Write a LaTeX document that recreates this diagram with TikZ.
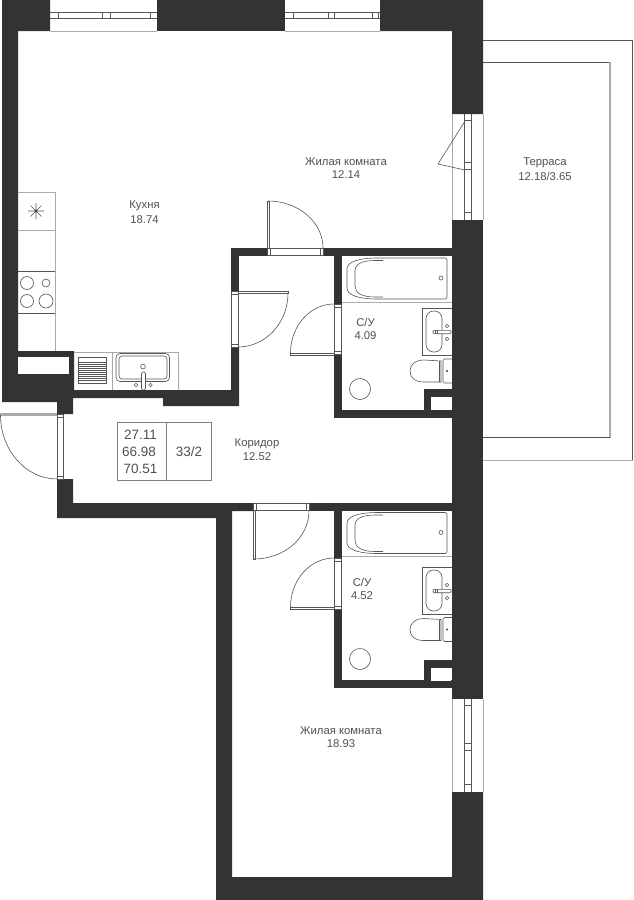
\documentclass[tikz,border=0pt]{standalone}
\usepackage{fontspec}
\setmainfont{Liberation Sans}
\definecolor{wallc}{HTML}{333333}
\definecolor{linec}{HTML}{555555}
\definecolor{lightc}{HTML}{AAAAAA}
\definecolor{textc}{HTML}{505050}
\tikzset{
  wallfill/.style={fill=wallc,draw=none},
  thin line/.style={draw=linec,line width=0.6pt},
  frame line/.style={draw=lightc,line width=0.8pt},
  winbar/.style={draw=linec,line width=0.7pt},
  label/.style={text=textc,font=\fontsize{11.3}{13}\selectfont,inner sep=0pt,align=center},
  tablelabel/.style={text=textc,font=\fontsize{13.5}{15}\selectfont,inner sep=0pt,align=center},
}
\newcommand{\mybath}{%
  \draw[thin line,rounded corners=2pt] (447,258) -- (447,299) -- (380,299) .. controls (358,299) and (347,295) .. (347,286) -- (347,271) .. controls (347,262) and (358,258) .. (380,258) -- cycle;
  \draw[thin line] (383,260.5) -- (375,260.5) .. controls (362,260.5) and (355,264) .. (355,271) -- (355,286) .. controls (355,293) and (362,297) .. (375,297) -- (383,297);
  \draw[thin line] (441,278) circle (2);
}
\newcommand{\mysink}{%
  \draw[thin line] (452,308) -- (422,308) -- (422,355) -- (452,355);
  \draw[thin line,rounded corners=7.5pt] (426,311) rectangle (442,352);
  \draw[thin line,rounded corners=1pt,fill=white] (433,330.3) rectangle (451,333.7);
  \draw[thin line] (435,330.3) -- (435,333.7) (437,330.3) -- (437,333.7);
  \draw[thin line] (447,326) circle (1.7) (447,339) circle (1.7);
}
\newcommand{\mytoilet}{%
  \draw[thin line,rounded corners=1.5pt] (452,359) -- (443,359) -- (443,383) -- (452,383);
  \draw[thin line] (441,361) -- (424,360) .. controls (415,360) and (410,365) .. (410,371) .. controls (410,378) and (415,382) .. (424,382) -- (441,382) -- cycle;
  \draw[thin line] (439,361) -- (439,382);
  \draw[thin line,fill=linec] (447,371) circle (0.8);
}
\newcommand{\hwin}[2]{%
  \draw[frame line] (#1,31) -- (#2,31);
  \draw[winbar] (#1,12) -- (#2,12) (#1,18) -- (#2,18);
}
\newcommand{\vwin}[2]{%
  \draw[frame line] (452.5,#1) -- (452.5,#2) (483,#1) -- (483,#2);
  \draw[winbar] (464.5,#1) -- (464.5,#2) (471.5,#1) -- (471.5,#2);
}
\begin{document}
\begin{tikzpicture}[x=1pt,y=-1pt]
\useasboundingbox (0,0) rectangle (633,900);
\fill[white] (0,0) rectangle (633,900);

% terrace
\draw[draw=linec,line width=0.9pt] (483,40) -- (632.5,40) -- (632.5,460);
\draw[draw=lightc,line width=1pt] (483,460) -- (632.5,460);
\draw[draw=linec,line width=0.9pt] (483,62.5) -- (610,62.5);
\draw[draw=lightc,line width=1.5pt] (610,62) -- (610,437.5);
\draw[draw=linec,line width=0.9pt] (483,437.5) -- (610,437.5);

% walls
\fill[wallfill] (2,0) -- (50,0) -- (50,31) -- (18,31) -- (18,351) -- (74,351) -- (74,390) -- (231,390) -- (231,347) -- (239,347) -- (239,406) -- (163,406) -- (163,398) -- (73,398) -- (73,414) -- (57,414) -- (57,402) -- (2,402) -- cycle;
\fill[wallfill] (157,0) rectangle (285,31);
\fill[wallfill] (380,0) -- (483,0) -- (483,114) -- (452,114) -- (452,31) -- (380,31) -- cycle;
\fill[wallfill] (452,220) rectangle (483,699);
\fill[wallfill] (231,248) rectangle (267,256);
\fill[wallfill] (231,248) rectangle (239,291);
\fill[wallfill] (323,248) rectangle (452,256);
\fill[wallfill] (334,256) rectangle (342,304);
\fill[wallfill] (334,354) rectangle (342,418);
\fill[wallfill] (334,410) rectangle (452,418);
\fill[wallfill] (424,389) rectangle (452,397);
\fill[wallfill] (424,389) rectangle (431,410);
\fill[wallfill] (57,479) -- (73,479) -- (73,503) -- (253,503) -- (253,511) -- (232,511) -- (232,877) -- (452,877) -- (452,792) -- (483,792) -- (483,900) -- (216,900) -- (216,518) -- (57,518) -- cycle;
\fill[wallfill] (309,503) rectangle (452,511);
\fill[wallfill] (334,511) rectangle (342,558);
\fill[wallfill] (334,609) rectangle (342,688);
\fill[wallfill] (334,680) rectangle (452,688);
\fill[wallfill] (424,660) rectangle (452,668);
\fill[wallfill] (424,660) rectangle (431,681);
\fill[white] (18,357) rectangle (69,374);
\fill[white] (431.5,397) rectangle (451,410);
\fill[white] (431,668) rectangle (451,681);

% top windows
\hwin{50}{157}
\draw[winbar] (58,12) -- (58,18) (102,12) -- (102,18) (110,12) -- (110,18) (150.5,12) -- (150.5,18);
\hwin{285}{380}
\draw[winbar] (293.5,12) -- (293.5,18) (328,12) -- (328,18) (334,12) -- (334,18) (372.5,12) -- (372.5,18) (378,12) -- (378,18);

% right windows
\vwin{114}{220}
\draw[winbar] (464.5,120.5) -- (471.5,120.5) (464.5,162) -- (471.5,162) (464.5,169.5) -- (471.5,169.5) (464.5,212) -- (471.5,212);
\draw[thin line] (465,121) -- (438,164) -- (465,170);
\vwin{699}{792}
\draw[winbar] (464.5,705.5) -- (471.5,705.5) (464.5,743.5) -- (471.5,743.5) (464.5,750) -- (471.5,750) (464.5,784.5) -- (471.5,784.5);

% kitchen counter
\draw[draw=lightc,line width=0.8pt] (18,192.5) -- (55,192.5) -- (55,351);
\draw[draw=lightc,line width=0.8pt] (18,230.5) -- (55,230.5);
\draw[thin line] (18,271) -- (55,271) (18,313) -- (55,313);
\draw[draw=linec,line width=0.6pt] (28,211) -- (44,211) (36,203) -- (36,219) (30.5,205.5) -- (41.5,216.5) (30.5,216.5) -- (41.5,205.5);
\fill[wallc] (36,211) circle (1.2);
\draw[thin line] (27,283) circle (6.5) (46,283) circle (4) (27,301) circle (6.5) (46,301) circle (7);

% sink counter
\draw[draw=lightc,line width=0.7pt] (74,352.5) -- (178,352.5) -- (178,390) (112,352.5) -- (112,390);
\draw[thin line] (78.5,357.5) rectangle (106,383);
\foreach \yy in {362,364,...,380} {\draw[draw=linec,line width=0.9pt] (78.5,\yy) -- (106,\yy);}
\draw[thin line,rounded corners=4pt] (116,353.5) rectangle (169.5,381.5);
\draw[thin line,rounded corners=3pt] (119,356) rectangle (167,379);
\draw[thin line] (143,366.5) circle (2.4);
\draw[thin line,fill=white,rounded corners=1.5pt] (141.5,372) rectangle (145.5,390);
\draw[thin line] (136,385) circle (1.7) (150.5,385) circle (1.7);

% doors: frames and leaves
\draw[winbar] (267.5,248.5) rectangle (323,255.5);
\draw[winbar] (270,248.5) -- (270,255.5) (320,248.5) -- (320,255.5);
\draw[thin line] (267,248) -- (267,201) -- (269,201) -- (269,248);
\draw[thin line] (268,201) .. controls (298.4,201) and (323,222) .. (323,248);

\draw[winbar] (231.5,291) rectangle (238.5,347);
\draw[winbar] (231.5,294) -- (238.5,294) (231.5,344) -- (238.5,344);
\draw[thin line] (238,291) -- (288,291) -- (288,293) -- (238,293);
\draw[thin line] (288,293) .. controls (288,323) and (265.6,347) .. (238,347);

\draw[winbar] (334.5,304) rectangle (341.5,354);
\draw[winbar] (334.5,307) -- (341.5,307) (334.5,351) -- (341.5,351);
\draw[thin line] (334,353) -- (290.5,353) -- (290.5,355) -- (334,355);
\draw[thin line] (290.5,353) .. controls (290.5,326) and (310,304) .. (334,304);

\draw[winbar] (57.5,414) rectangle (63.5,479);
\draw[winbar] (57.5,417) -- (63.5,417) (57.5,476) -- (63.5,476);
\draw[draw=lightc,line width=2.2pt] (0,414.5) -- (57,414.5);
\draw[thin line] (0.5,415) .. controls (0.5,450) and (25.7,479) .. (57,479);

\draw[winbar] (253.5,503.5) rectangle (309,510.5);
\draw[winbar] (256,503.5) -- (256,510.5) (306,503.5) -- (306,510.5);
\draw[thin line] (253,511) -- (253,559) -- (255,559) -- (255,511);
\draw[thin line] (254,559) .. controls (284.4,559) and (309,537.5) .. (309,511);

\draw[winbar] (334.5,558) rectangle (341.5,609);
\draw[winbar] (334.5,561) -- (341.5,561) (334.5,606) -- (341.5,606);
\draw[thin line] (334,607) -- (290.5,607) -- (290.5,609) -- (334,609);
\draw[thin line] (290.5,607) .. controls (290.5,580) and (310,558) .. (334,558);

% bathroom 1
\draw[draw=lightc,line width=0.7pt] (342,302) -- (452,302);
\mybath \mysink \mytoilet
\draw[thin line] (360,389) circle (10.5);

% bathroom 2
\draw[draw=lightc,line width=0.7pt] (342,556) -- (452,556);
\begin{scope}[yshift=-254.5pt]\mybath\end{scope}
\begin{scope}[yshift=-259pt]\mysink\end{scope}
\begin{scope}[yshift=-258.5pt]\mytoilet\end{scope}
\draw[thin line] (360,659) circle (10.5);

% info table
\draw[draw=gray,line width=0.7pt] (117,422) rectangle (211,480) (166,422) -- (166,480);
\node[tablelabel] (t1) at (140.5,435) {27.11};
\node[tablelabel] (t2) at (139,452) {66.98};
\node[tablelabel] (t3) at (140.5,469) {70.51};
\node[tablelabel] (t4) at (189,452) {33/2};

% room labels
\node[label] (r1) at (346,162) {Жилая комната};
\node[label] (r1a) at (346,175) {12.14};
\node[label] (r2) at (144.5,206) {Кухня};
\node[label] (r2a) at (144.5,219.5) {18.74};
\node[label] (r3) at (545,163) {Терраса};
\node[label] (r3a) at (545,176) {12.18/3.65};
\node[label] (r4) at (365.5,322) {С/У};
\node[label] (r4a) at (365.5,336) {4.09};
\node[label] (r5) at (257,444) {Коридор};
\node[label] (r5a) at (257,457) {12.52};
\node[label] (r6) at (362,582) {С/У};
\node[label] (r6a) at (362,596) {4.52};
\node[label] (r7) at (341,731) {Жилая комната};
\node[label] (r7a) at (341,744) {18.93};
\end{tikzpicture}
\end{document}
